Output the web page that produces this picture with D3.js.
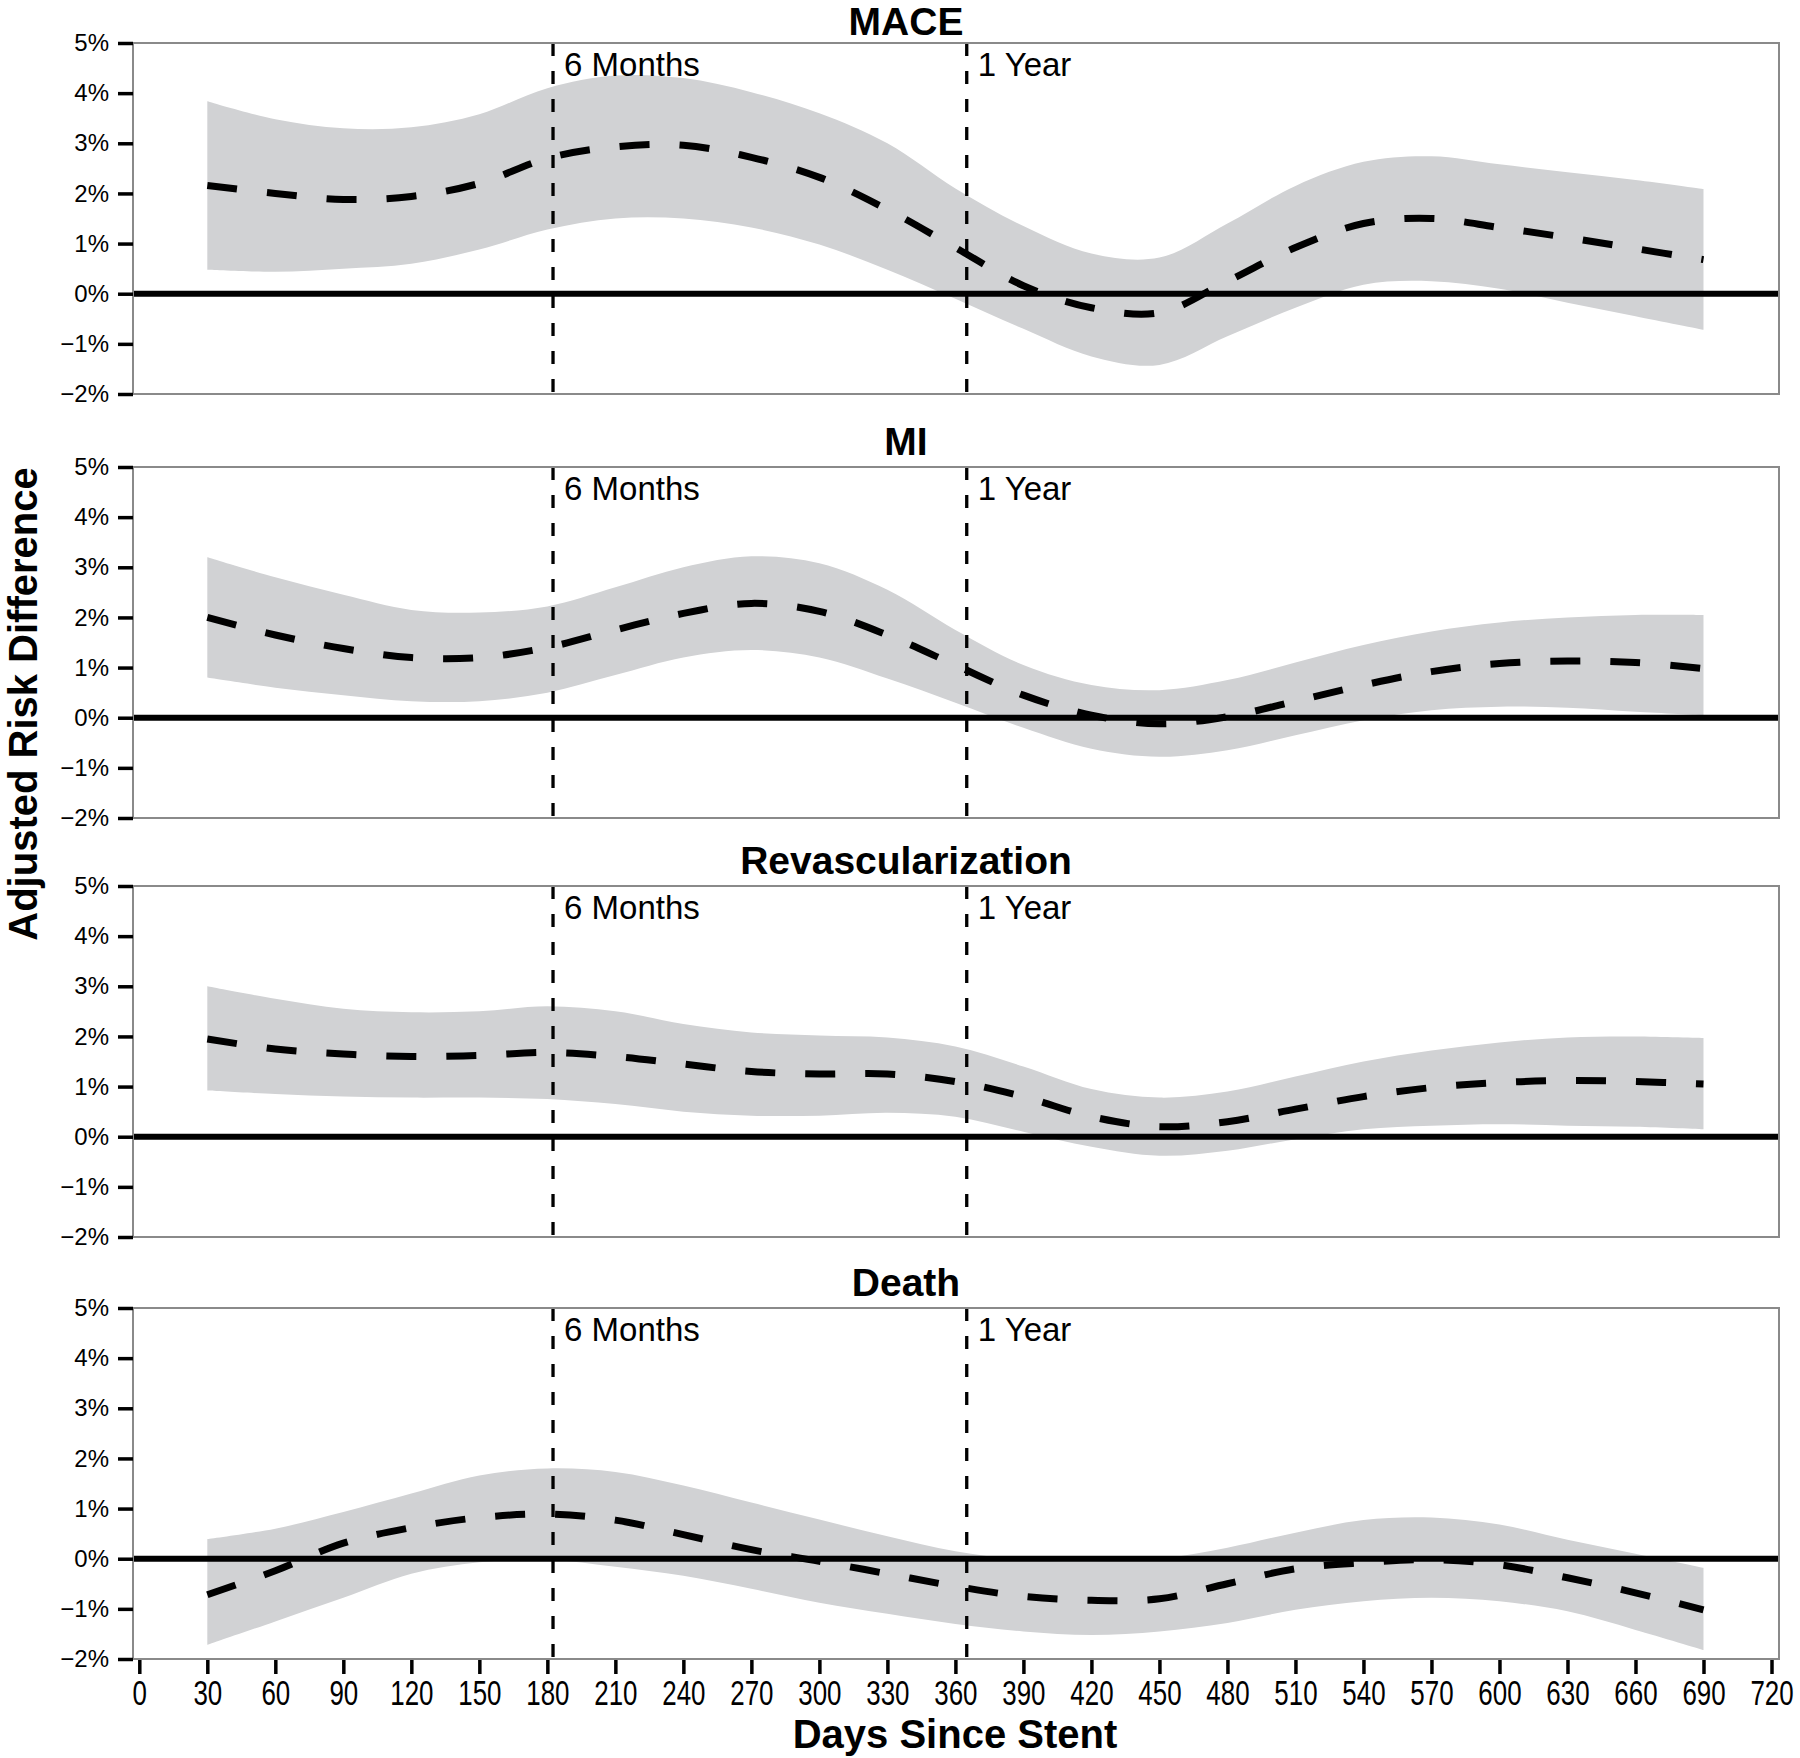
<!DOCTYPE html>
<html>
<head>
<meta charset="utf-8">
<script src="https://cdn.jsdelivr.net/npm/d3@7"></script>
<style>
  html, body { margin: 0; padding: 0; background: #fff; }
  svg { display: block; }
  text { font-family: "Liberation Sans", Arial, Helvetica, sans-serif; fill: #000; }
</style>
</head>
<body>
<svg id="chart" width="1800" height="1758"></svg>
<script>
// ---------------- DATA ----------------
const days = [30, 60, 90, 120, 150, 180, 210, 240, 270, 300, 330, 360, 390, 420, 450, 480, 510, 540, 570, 600, 630, 660, 690];

const panelTitles = ["MACE", "MI", "Revascularization", "Death"];

const maceMean  = [2.16, 2.00, 1.88, 1.94, 2.20, 2.70, 2.93, 2.96, 2.72, 2.32, 1.68, 0.92, 0.16, -0.28, -0.38, 0.25, 0.92, 1.40, 1.50, 1.32, 1.12, 0.90, 0.68];
const maceUpper = [3.84, 3.48, 3.30, 3.32, 3.58, 4.10, 4.35, 4.30, 4.02, 3.60, 3.00, 2.10, 1.35, 0.80, 0.72, 1.40, 2.15, 2.63, 2.74, 2.58, 2.42, 2.27, 2.09];
const maceLower = [0.48, 0.44, 0.50, 0.60, 0.88, 1.28, 1.50, 1.50, 1.32, 0.98, 0.48, -0.10, -0.70, -1.25, -1.42, -0.85, -0.28, 0.18, 0.25, 0.10, -0.18, -0.45, -0.72];

const miMean  = [2.00, 1.65, 1.38, 1.20, 1.20, 1.40, 1.75, 2.08, 2.28, 2.12, 1.65, 1.05, 0.45, 0.05, -0.12, 0.02, 0.33, 0.65, 0.92, 1.08, 1.13, 1.10, 0.98];
const miUpper = [3.20, 2.80, 2.45, 2.15, 2.10, 2.22, 2.60, 3.00, 3.22, 3.08, 2.55, 1.75, 1.05, 0.65, 0.55, 0.75, 1.10, 1.45, 1.72, 1.90, 2.00, 2.05, 2.05];
const miLower = [0.80, 0.60, 0.45, 0.33, 0.33, 0.50, 0.85, 1.20, 1.35, 1.20, 0.78, 0.30, -0.20, -0.62, -0.78, -0.65, -0.35, -0.05, 0.15, 0.22, 0.20, 0.12, 0.05];

const revMean  = [1.95, 1.75, 1.65, 1.60, 1.62, 1.68, 1.60, 1.45, 1.30, 1.25, 1.25, 1.10, 0.80, 0.40, 0.20, 0.30, 0.55, 0.80, 0.98, 1.08, 1.12, 1.10, 1.05];
const revUpper = [3.00, 2.75, 2.55, 2.48, 2.50, 2.60, 2.50, 2.25, 2.08, 2.02, 1.98, 1.80, 1.40, 0.95, 0.78, 0.90, 1.20, 1.50, 1.72, 1.88, 1.98, 2.00, 1.97];
const revLower = [0.92, 0.85, 0.80, 0.78, 0.78, 0.75, 0.65, 0.50, 0.42, 0.42, 0.48, 0.40, 0.10, -0.20, -0.38, -0.28, -0.05, 0.15, 0.22, 0.25, 0.22, 0.20, 0.15];

const deathMean  = [-0.72, -0.24, 0.31, 0.62, 0.82, 0.89, 0.77, 0.48, 0.18, -0.05, -0.30, -0.55, -0.75, -0.83, -0.80, -0.50, -0.20, -0.08, -0.02, -0.12, -0.38, -0.68, -1.02];
const deathUpper = [0.39, 0.60, 0.93, 1.30, 1.66, 1.80, 1.73, 1.46, 1.12, 0.78, 0.45, 0.15, -0.02, -0.05, 0.00, 0.22, 0.52, 0.77, 0.82, 0.68, 0.38, 0.10, -0.18];
const deathLower = [-1.72, -1.25, -0.78, -0.30, -0.07, -0.02, -0.16, -0.34, -0.60, -0.88, -1.10, -1.30, -1.45, -1.52, -1.45, -1.28, -1.02, -0.85, -0.78, -0.85, -1.05, -1.42, -1.82];

const yTickValues = [-2, -1, 0, 1, 2, 3, 4, 5];
const xTickValues = [0, 30, 60, 90, 120, 150, 180, 210, 240, 270, 300, 330, 360, 390, 420, 450, 480, 510, 540, 570, 600, 630, 660, 690, 720];
const markerDays = [182.5, 365];
const markerLabels = ["6 Months", "1 Year"];

const yAxisTitle = "Adjusted Risk Difference";
const xAxisTitle = "Days Since Stent";

// ---------------- LAYOUT ----------------
const panelLeft = 133, panelRight = 1779;
const panelTops = [43, 467, 886, 1308];
const panelH = 351;

const series = [
  { mean: maceMean, upper: maceUpper, lower: maceLower },
  { mean: miMean, upper: miUpper, lower: miLower },
  { mean: revMean, upper: revUpper, lower: revLower },
  { mean: deathMean, upper: deathUpper, lower: deathLower }
];

const svg = d3.select("#chart");
const x = d3.scaleLinear().domain([0, 720]).range([139.3, 1771.5]);
const curve = d3.curveCatmullRom.alpha(0.5);

const fmtPct = d => (d < 0 ? "\u2212" : "") + Math.abs(d) + "%";

series.forEach((s, i) => {
  const top = panelTops[i];
  const y = d3.scaleLinear().domain([-2, 5]).range([top + panelH, top]);
  const g = svg.append("g");

  const pts = days.map((d, k) => ({ day: d, m: s.mean[k], u: s.upper[k], l: s.lower[k] }));

  // confidence band
  g.append("path")
    .datum(pts)
    .attr("fill", "#d1d2d4")
    .attr("d", d3.area().curve(curve)
      .x(d => x(d.day)).y0(d => y(d.l)).y1(d => y(d.u)));

  // zero line
  g.append("line")
    .attr("x1", panelLeft).attr("x2", panelRight)
    .attr("y1", y(0)).attr("y2", y(0))
    .attr("stroke", "#000").attr("stroke-width", 6);

  // mean dashed line
  g.append("path")
    .datum(pts)
    .attr("fill", "none")
    .attr("stroke", "#000")
    .attr("stroke-width", 7)
    .attr("stroke-dasharray", "30,30")
    .attr("d", d3.line().curve(curve).x(d => x(d.day)).y(d => y(d.m)));

  // vertical markers
  markerDays.forEach((md, k) => {
    g.append("line")
      .attr("x1", x(md)).attr("x2", x(md))
      .attr("y1", top).attr("y2", top + panelH)
      .attr("stroke", "#000").attr("stroke-width", 3.3)
      .attr("stroke-dasharray", "13,15");
    g.append("text")
      .attr("x", x(md) + 11)
      .attr("y", top + 33)
      .attr("font-size", 33)
      .text(markerLabels[k]);
  });

  // frame
  g.append("rect")
    .attr("x", panelLeft).attr("y", top)
    .attr("width", panelRight - panelLeft).attr("height", panelH)
    .attr("fill", "none").attr("stroke", "#8a8a8a").attr("stroke-width", 2);

  // y axis
  const ya = g.append("g")
    .attr("transform", `translate(${panelLeft},0)`)
    .call(d3.axisLeft(y).tickValues(yTickValues).tickSize(15).tickPadding(9).tickFormat(fmtPct));
  ya.select(".domain").remove();
  ya.selectAll(".tick line").attr("stroke", "#000").attr("stroke-width", 3.5);
  ya.selectAll(".tick text")
    .attr("font-family", null)
    .attr("font-size", 24)
    .attr("fill", "#000");

  // title
  svg.append("text")
    .attr("x", 906)
    .attr("y", i === 0 ? 35 : top - 12)
    .attr("text-anchor", "middle")
    .attr("font-size", 39)
    .attr("font-weight", "bold")
    .text(panelTitles[i]);

  // x axis only on last panel
  if (i === series.length - 1) {
    const xa = svg.append("g")
      .attr("transform", `translate(0,${top + panelH + 1})`)
      .call(d3.axisBottom(x).tickValues(xTickValues).tickSize(14).tickFormat(d3.format("d")));
    xa.select(".domain").remove();
    xa.selectAll(".tick line").attr("stroke", "#000").attr("stroke-width", 3.5);
    xa.selectAll(".tick text")
      .attr("font-family", null)
      .attr("font-size", 36)
      .attr("fill", "#000")
      .attr("dy", null)
      .attr("y", 0)
      .attr("transform", "translate(0,45) scale(0.72,1)");
  }
});

// axis titles
svg.append("text")
  .attr("transform", "translate(37,704) rotate(-90)")
  .attr("text-anchor", "middle")
  .attr("font-size", 40)
  .attr("font-weight", "bold")
  .text(yAxisTitle);

svg.append("text")
  .attr("x", 955)
  .attr("y", 1748)
  .attr("text-anchor", "middle")
  .attr("font-size", 40)
  .attr("font-weight", "bold")
  .text(xAxisTitle);
</script>
</body>
</html>
